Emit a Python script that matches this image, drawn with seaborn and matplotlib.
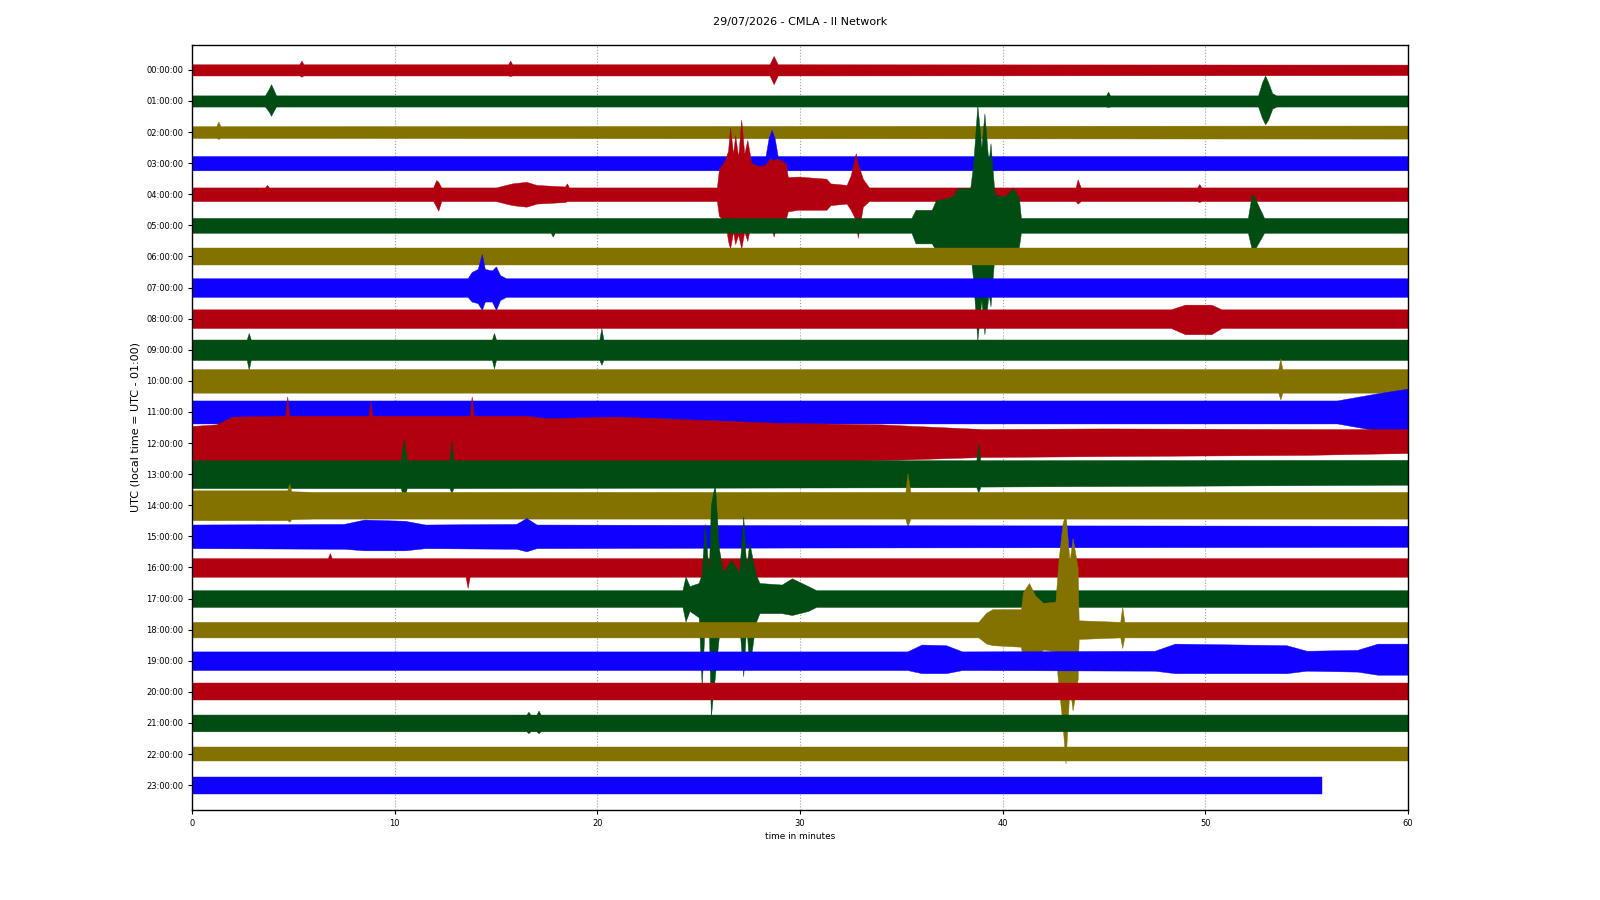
import matplotlib
matplotlib.use("Agg")
import matplotlib.pyplot as plt
import seaborn as sns
import pandas as pd

TITLE = "29/07/2026 - CMLA - II Network"
X_LABEL = "time in minutes"
Y_LABEL = "UTC (local time = UTC - 01:00)"

ROW_LABELS = ["00:00:00", "01:00:00", "02:00:00", "03:00:00", "04:00:00", "05:00:00",
              "06:00:00", "07:00:00", "08:00:00", "09:00:00", "10:00:00", "11:00:00",
              "12:00:00", "13:00:00", "14:00:00", "15:00:00", "16:00:00", "17:00:00",
              "18:00:00", "19:00:00", "20:00:00", "21:00:00", "22:00:00", "23:00:00"]
X_TICKS = [0, 10, 20, 30, 40, 50, 60]
TRACE_COLORS = ["#B2000F", "#004C12", "#847200", "#0E01FF"]

# Envelope knots per hourly line: (minute, upward amplitude, downward amplitude),
# amplitudes in units of the line spacing, read off the helicorder.
ROW_00 = [(0, .18, .18), (5.3, .18, .18), (5.4, .3, .22), (5.5, .18, .18), (15.6, .18, .18),
          (15.7, .3, .2), (15.8, .18, .18), (28.5, .18, .18), (28.7, .45, .46), (28.9, .18, .18),
          (60, .17, .17)]
ROW_01 = [(0, .18, .18), (3.6, .18, .18), (3.8, .4, .35), (3.9, .54, .48), (4.0, .4, .35),
          (4.15, .18, .18), (45.1, .18, .18), (45.2, .3, .2), (45.3, .18, .18), (52.6, .18, .18),
          (52.8, .6, .55), (52.95, .82, .75), (53.1, .6, .6), (53.3, .25, .25), (53.5, .18, .18),
          (60, .18, .18)]
ROW_02 = [(0, .19, .19), (1.2, .19, .19), (1.3, .34, .22), (1.4, .19, .19), (60, .21, .21)]
ROW_03 = [(0, .23, .23), (28.3, .23, .23), (28.45, .8, .5), (28.6, 1.07, .6), (28.75, .8, .5),
          (28.9, .23, .23), (60, .23, .23)]
ROW_04 = [(0, .22, .22), (3.6, .22, .22), (3.7, .3, .22), (3.8, .22, .22), (11.9, .22, .22),
          (12.05, .46, .4), (12.15, .4, .53), (12.3, .22, .22), (15.0, .22, .22), (15.8, .35, .35),
          (16.5, .4, .4), (17.0, .3, .3), (18.4, .25, .25), (18.5, .35, .22), (18.6, .22, .22),
          (25.9, .22, .22), (26.0, .8, .7), (26.3, 1.1, .85), (26.45, 1.4, 1.5), (26.55, 2.15, 1.74),
          (26.7, 1.3, 1.2), (26.8, 1.9, 1.6), (26.95, 1.2, 1.3), (27.1, 2.4, 1.74), (27.25, 1.3, 1.2),
          (27.4, 1.75, 1.5), (27.6, 1.0, .85), (28.0, .9, .83), (28.3, .95, .83), (28.5, 1.15, .9),
          (28.7, 1.1, 1.36), (28.9, 1.15, .85), (29.3, 1.0, .8), (29.4, .55, .55), (29.9, .57, .5),
          (31.3, .5, .5), (31.5, .35, .35), (32.3, .3, .3), (32.5, .6, .5), (32.75, 1.32, .83),
          (32.85, 1.0, 1.4), (33.1, .5, .4), (33.4, .22, .22), (43.6, .22, .22), (43.7, .48, .3),
          (43.85, .22, .22), (49.6, .22, .22), (49.7, .33, .25), (49.8, .22, .22), (60, .22, .22)]
ROW_05 = [(0, .24, .24), (17.7, .24, .24), (17.8, .24, .36), (17.9, .24, .24), (35.5, .24, .24),
          (35.7, .5, .58), (36.5, .5, .58), (36.7, .8, .8), (37.5, .92, .8), (37.8, 1.2, .8),
          (38.4, 1.2, .85), (38.55, 2.0, 1.8), (38.75, 3.87, 3.7), (38.95, 2.5, 2.4), (39.1, 3.6, 3.5),
          (39.3, 2.0, 2.2), (39.4, 2.64, 2.6), (39.6, 1.0, .9), (40.1, .93, .74), (40.5, 1.19, .8),
          (40.8, .9, .7), (40.9, .24, .24), (52.1, .24, .24), (52.3, 1.03, .8), (52.5, .8, .7),
          (52.9, .24, .24), (60, .24, .24)]
ROW_06 = [(0, .27, .27), (20, .27, .27), (40, .27, .27), (60, .27, .27)]
ROW_07 = [(0, .3, .3), (13.6, .3, .3), (13.8, .5, .45), (14.1, .6, .5), (14.3, 1.08, .72),
          (14.45, .6, .45), (14.8, .55, .45), (15.0, .68, .72), (15.2, .4, .4), (15.5, .3, .3),
          (60, .3, .3)]
ROW_08 = [(0, .3, .3), (48.3, .3, .3), (49.0, .45, .5), (50.3, .45, .5), (50.8, .3, .3), (60, .3, .3)]
ROW_09 = [(0, .33, .33), (2.7, .33, .33), (2.8, .54, .64), (2.9, .33, .33), (14.8, .33, .33),
          (14.9, .54, .6), (15.0, .33, .33), (20.1, .33, .33), (20.2, .7, .48), (20.3, .33, .33),
          (60, .33, .33)]
ROW_10 = [(0, .38, .38), (53.6, .38, .38), (53.7, .73, .6), (53.8, .38, .38), (60, .38, .38)]
ROW_11 = [(0, .37, .37), (56.5, .37, .37), (58.5, .6, .6), (60, .75, .8)]
ROW_12 = [(0, .55, .55), (1.2, .6, .58), (2.0, .85, .63), (4.6, .88, .65), (4.7, 1.5, .65),
          (4.8, .88, .65), (8.7, .88, .65), (8.8, 1.35, .65), (8.9, .88, .65), (13.7, .88, .65),
          (13.8, 1.5, .65), (13.9, .88, .65), (16.5, .88, .65), (17.5, .8, .62), (21.0, .85, .6),
          (25.0, .75, .6), (29.0, .65, .6), (34.0, .6, .55), (39.0, .45, .45), (45.0, .47, .42),
          (55.0, .45, .38), (60, .45, .32)]
ROW_13 = [(0, .45, .45), (10.3, .45, .45), (10.45, 1.13, .8), (10.6, .45, .45), (12.7, .45, .45),
          (12.8, 1.05, .6), (12.9, .45, .45), (38.7, .45, .42), (38.8, 1.0, .6), (38.9, .45, .4),
          (60, .46, .34)]
ROW_14 = [(0, .48, .48), (4.7, .48, .48), (4.8, .7, .53), (4.9, .45, .45), (6.0, .43, .43),
          (35.2, .43, .43), (35.3, 1.03, .69), (35.45, .43, .43), (60, .43, .43)]
ROW_15 = [(0, .38, .38), (7.5, .4, .4), (8.5, .54, .45), (10.5, .5, .45), (11.5, .38, .38),
          (16.0, .4, .4), (16.5, .59, .48), (17.0, .38, .38), (30, .36, .36), (60, .34, .34)]
ROW_16 = [(0, .3, .3), (6.7, .3, .3), (6.8, .46, .3), (6.9, .3, .3), (13.5, .3, .3),
          (13.6, .3, .66), (13.7, .3, .3), (60, .3, .3)]
ROW_17 = [(0, .27, .27), (24.2, .27, .27), (24.35, .71, .74), (24.55, .4, .4), (25.0, .5, .6),
          (25.15, .8, 2.83), (25.3, 2.4, .8), (25.5, .8, .9), (25.6, 3.0, 3.8), (25.8, 3.7, 2.5),
          (26.0, 1.6, 1.2), (26.2, .85, .8), (26.6, 1.24, .85), (27.0, .85, .8), (27.2, 2.64, 2.5),
          (27.35, 1.0, .8), (27.5, 1.8, 2.3), (27.8, .8, .8), (28.0, .5, .47), (29.1, .45, .47),
          (29.6, .65, .53), (30.4, .4, .4), (30.8, .27, .27), (60, .27, .27)]
ROW_18 = [(0, .25, .25), (38.8, .25, .25), (39.2, .55, .45), (39.5, .66, .5), (40.9, .66, .55),
          (41.0, 1.2, 1.0), (41.3, 1.5, 1.28), (41.6, 1.1, .9), (42.0, .86, .64), (42.6, .9, .7),
          (42.75, 2.2, 1.8), (42.95, 3.4, 3.0), (43.1, 3.75, 4.3), (43.3, 2.2, 1.8), (43.45, 2.95, 2.6),
          (43.7, 2.0, 1.6), (43.75, .3, .3), (45.8, .25, .25), (45.9, .75, .59), (46.0, .25, .25),
          (60, .25, .25)]
ROW_19 = [(0, .3, .3), (35.3, .3, .3), (36.0, .52, .4), (37.2, .5, .4), (38.0, .3, .3),
          (47.5, .32, .32), (48.5, .55, .4), (54.0, .5, .4), (55.0, .32, .32), (57.5, .35, .35),
          (58.5, .55, .45), (60, .55, .45)]
ROW_20 = [(0, .27, .27), (60, .27, .27)]
ROW_21 = [(0, .27, .27), (16.5, .27, .27), (16.6, .36, .33), (16.7, .27, .27), (17.0, .27, .27),
          (17.1, .4, .33), (17.2, .27, .27), (60, .27, .27)]
ROW_22 = [(0, .24, .24), (60, .24, .24)]
ROW_23 = [(0, .27, .27), (55.74, .27, .27)]

ROWS = [ROW_00, ROW_01, ROW_02, ROW_03, ROW_04, ROW_05, ROW_06, ROW_07, ROW_08, ROW_09,
        ROW_10, ROW_11, ROW_12, ROW_13, ROW_14, ROW_15, ROW_16, ROW_17, ROW_18, ROW_19,
        ROW_20, ROW_21, ROW_22, ROW_23]

# long-form table: upper and lower envelope value at every knot
records = []
for idx, (label, knots) in enumerate(zip(ROW_LABELS, ROWS)):
    for minute, up, down in knots:
        records.append({"hour": label, "minute": minute, "offset": idx - up})
        records.append({"hour": label, "minute": minute, "offset": idx + down})
df = pd.DataFrame(records)

palette = {label: TRACE_COLORS[i % len(TRACE_COLORS)] for i, label in enumerate(ROW_LABELS)}

fig = plt.figure(figsize=(16, 9), dpi=100)
ax = fig.add_axes([0.12, 0.1, 0.76, 0.85])
ax.set_axisbelow(True)
ax.grid(axis="x", linestyle=":", color="#a0a0a0", linewidth=0.8)

sns.lineplot(data=df, x="minute", y="offset", hue="hour", hue_order=ROW_LABELS,
             palette=palette, estimator="mean", errorbar=("pi", 100),
             err_kws={"alpha": 1, "linewidth": 0.3}, linewidth=0, legend=False, ax=ax)

ax.set_xlim(0, 60)
ax.set_ylim(23.8, -0.8)
ax.set_xticks(X_TICKS)
ax.set_xticklabels([str(t) for t in X_TICKS])
ax.set_yticks(range(len(ROW_LABELS)))
ax.set_yticklabels(ROW_LABELS)
ax.tick_params(axis="both", labelsize=6, length=2.8, width=0.8)
ax.set_xlabel(X_LABEL, fontsize=6.4, labelpad=3)
ax.set_ylabel(Y_LABEL, fontsize=8)
for sp in ax.spines.values():
    sp.set_linewidth(1.0)
    sp.set_color("black")

fig.text(0.5, 1 - 22 / 900, TITLE, ha="center", va="center", fontsize=8)

fig.savefig("out.png", dpi=100)
